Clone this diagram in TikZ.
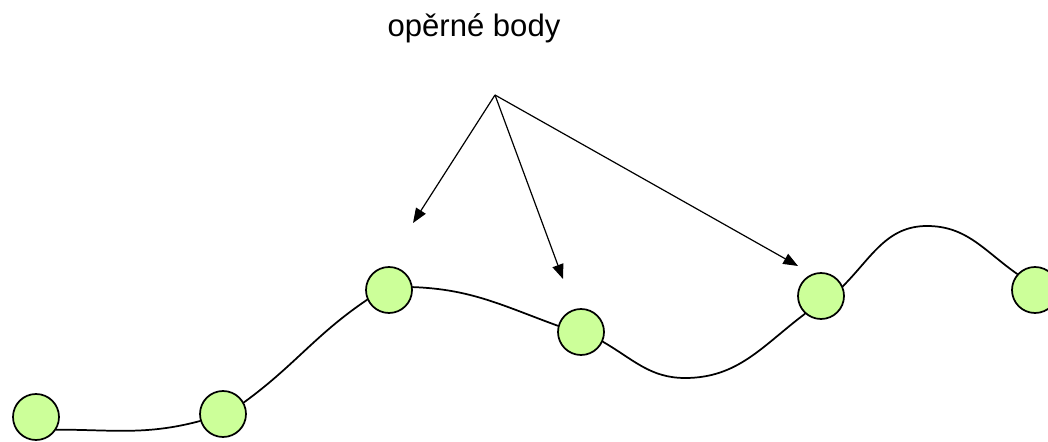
\documentclass[tikz,border=0pt]{standalone}
\usepackage{fontspec}
\setmainfont{Liberation Sans}
\usetikzlibrary{arrows.meta,positioning}
\definecolor{pointgreen}{RGB}{204,255,153}
\tikzset{support/.style={circle,fill=pointgreen,draw,line width=1.3pt,minimum size=34.5pt,inner sep=0pt},
         spline/.style={line width=1.3pt,line cap=round},
         pointer/.style={line width=0.9pt,-{Triangle[length=11pt,width=8.5pt]}},
         caption/.style={rectangle,draw=none,fill=none,inner sep=0pt,anchor=base,font=\fontsize{23.3}{28}\selectfont}
}

\begin{document}
\begin{tikzpicture}[x=0.75pt,y=0.75pt]
\useasboundingbox (0,0) rectangle (1048,442);

\node [support] (c1) at (36,25) {};
\node [support] (c2) at (223,28) {};
\node [support] (c3) at (389,152) {};
\node [support] (c4) at (581,110) {};
\node [support] (c5) at (821,146) {};
\node [support] (c6) at (1035,152) {};

% curve runs behind the circles, border to border
\draw[spline] (c1.328) to[out=0,in=195] (c2.197)
    (c2.29) to[out=36,in=214] (c3.204)
    (c3.7) to[out=-2,in=160] (c4.165)
    (c4.336) to[out=-30,in=180] (685,64) to[out=0,in=217] (c5.228)
    (c5.24) to[out=45,in=180] (927,216) to[out=0,in=145] (c6.138);

\node [caption] (label) at (474,405) {opěrné body};
\coordinate (top) at (495,347);
\coordinate (t1) at (413,219);
\coordinate (t2) at (563,163);
\coordinate (t3) at (798,176);
\draw[pointer] (top) -- (t1);
\draw[pointer] (top) -- (t2);
\draw[pointer] (top) -- (t3);
\end{tikzpicture}
\end{document}
